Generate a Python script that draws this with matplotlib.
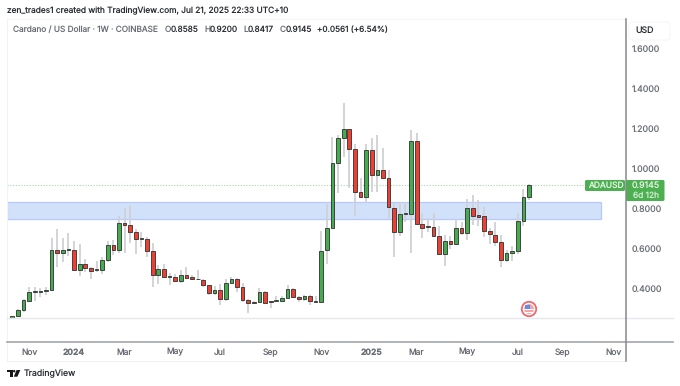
import pandas as pd
import matplotlib
matplotlib.use('Agg')
import matplotlib.pyplot as plt
import matplotlib.dates as mdates
from matplotlib.patches import Rectangle, FancyBboxPatch, Circle, Polygon

plt.rcParams['font.family'] = ['Inter', 'DejaVu Sans']
plt.rcParams['text.hinting'] = 'no_hinting'

# weekly candles, oldest first
opens = [.2500, .2532, .2615, .2932, .3382, .3815, .3832, .3865, .3915, .5932, .5782, .5898, .5915, .4932, .5232,
         .4998, .4915, .4898, .5398, .6182, .5898, .7265, .7165, .6798, .6465, .6465, .5865, .4648, .4965, .4598,
         .4548, .4365, .4648, .4548, .4482, .4432, .4148, .3765, .3898, .3448, .4282, .4448, .4048, .3415, .3315,
         .3315, .3832, .3348, .3348, .3348, .3498, .3948, .3548, .3465, .3615, .3382, .3315, .5898, .7032, 1.0248,
         1.1515, 1.1948, 1.0982, .8815, .8582, 1.0915, .9682, .9915, .9532, .8032, .6798, .7698, .7698, 1.1348,
         .7198, .7115, .7082, .6598, .5732, .6365, .6198, .7015, .6748, .8032, .7648, .7598, .6848, .6682, .6315,
         .5432, .5782, .5848, .7348, .8585]
highs = [.2532, .2632, .2948, .3448, .4048, .4082, .4032, .4082, .6498, .6948, .6498, .6782, .6365, .6198, .5448,
         .5048, .5365, .5582, .6365, .6415, .7632, .7998, .8115, .6965, .6832, .6582, .6248, .5165, .5215, .4748,
         .4698, .4915, .5082, .4665, .4915, .4482, .4182, .4115, .4215, .4465, .4548, .4498, .4282, .3448, .3348,
         .3998, .3865, .3382, .3615, .3632, .4148, .3998, .3615, .3665, .3648, .3615, .6882, .8215, 1.1582, 1.1665,
         1.3282, 1.1948, 1.1215, .9498, 1.1215, 1.1532, 1.1665, 1.0998, .9915, .8282, .8298, .8298, 1.1915, 1.1748,
         .7782, .7532, .7748, .7115, .6665, .6615, .7448, .7298, .8465, .8665, .8415, .8082, .6998, .7315, .6665,
         .5915, .6115, .7748, .8982, .9200]
lows = [.2500, .2515, .2582, .2832, .3332, .3382, .3548, .3665, .3915, .5082, .5332, .5615, .4915, .4632, .4832,
        .4465, .4832, .4715, .5332, .5665, .5748, .5782, .6282, .5698, .6082, .5582, .4048, .4215, .4498, .4165,
        .4332, .4248, .4465, .4415, .4415, .4048, .3665, .3665, .3165, .3382, .4248, .3798, .3332, .2748, .3248,
        .3282, .3248, .2998, .3315, .3315, .3448, .3498, .3298, .3382, .3148, .3248, .3248, .5198, .7032, .8748,
        1.0582, .8998, .7615, .8548, .8282, .8832, .8832, .9498, .7498, .5582, .6615, .7332, .5782, .7198,
        .6498, .6832, .6582, .5665, .5115, .5948, .6165, .6665, .6415, .7165, .7115, .6548, .6198, .6115, .5082,
        .5298, .5365, .5698, .7115, .8417]
closes = [.2532, .2615, .2915, .3398, .3798, .3848, .3882, .3915, .5932, .5782, .5898, .5948, .4915, .5232, .5015,
          .4882, .4948, .5398, .6182, .5898, .7265, .7165, .6798, .6448, .6498, .5882, .4665, .4965, .4565, .4565,
          .4348, .4648, .4532, .4448, .4448, .4148, .3765, .3898, .3448, .4282, .4448, .4048, .3415, .3248, .3265,
          .3832, .3282, .3298, .3398, .3498, .3948, .3548, .3465, .3615, .3382, .3315, .5882, .7015, 1.0248, 1.1498,
          1.1948, 1.0982, .8832, .8582, 1.0915, .9682, .9915, .9532, .8048, .6815, .7698, .7748, 1.1348, .7198,
          .7032, .7048, .6615, .5715, .6348, .6198, .7015, .6748, .8032, .7598, .7582, .6848, .6698, .6332, .5432,
          .5748, .5848, .7348, .8565, .9145]

zone_top = 0.8315
zone_bottom = 0.7465
last_price = 0.9145
y_ticks = [0.4, 0.6, 0.8, 1.0, 1.2, 1.4, 1.6]
x_tick_dates = ['2023-11-06', '2024-01-01', '2024-03-04', '2024-05-06', '2024-07-01', '2024-09-02',
                '2024-11-04', '2025-01-06', '2025-03-03', '2025-05-05', '2025-07-07', '2025-09-01', '2025-11-03']
x_tick_labels = ['Nov', '2024', 'Mar', 'May', 'Jul', 'Sep', 'Nov', '2025', 'Mar', 'May', 'Jul', 'Sep', 'Nov']

W, H = 680, 386
weeks = pd.date_range(end='2025-07-21', periods=len(opens), freq='7D')
df = pd.DataFrame({'o': opens, 'h': highs, 'l': lows, 'c': closes}, index=weeks)
df['x'] = mdates.date2num(df.index)

GREEN = '#46ab4e'
RED = '#f43c30'
WICK = '#cfd1d6'
EDGE = '#363b38'
LABEL = '#6b6e76'
DARK = '#2a2d33'

fig = plt.figure(figsize=(W / 100, H / 100), dpi=100, facecolor='white')

# axes box in pixels: left 7, right 625.5, top 19, bottom 342
ax = fig.add_axes([7 / W, 1 - 342 / H, 618.5 / W, 323 / H])
ax.set_facecolor('white')

# pixel calibration of the time and price scales
px_per_day = 5.616 / 7
last_x = df['x'].iloc[-1]
ax.set_xlim(last_x - (529 - 7) / px_per_day, last_x + (625.5 - 529) / px_per_day)
ax.set_ylim(0.8 + (208.3 - 342) / 200, 0.8 + (208.3 - 19) / 200)

# support zone
zone_end = last_x + (601.5 - 529) / px_per_day
ax.add_patch(Rectangle((ax.get_xlim()[0], zone_bottom), zone_end - ax.get_xlim()[0], zone_top - zone_bottom,
                       facecolor='#d1e1fa', edgecolor='#b7c8fb', lw=0.9, zorder=1))

# last price line
ax.axhline(last_price, color='#a9d3ac', lw=0.8, ls=(0, (1, 1.5)), zorder=1)

# candles
body_w = 3.7 / px_per_day
ax.vlines(df['x'], df['l'], df['h'], color=WICK, lw=1.3, zorder=2)
for x, o, c in zip(df['x'], df['o'], df['c']):
    col = GREEN if c >= o else RED
    ax.add_patch(Rectangle((x - body_w / 2, min(o, c)), body_w, abs(c - o), facecolor=col,
                           edgecolor=EDGE, lw=0.65, zorder=3))

for s in ['top', 'left', 'bottom', 'right']:
    ax.spines[s].set_visible(False)

ax.yaxis.tick_right()
ax.set_yticks(y_ticks)
ax.set_yticklabels([f'{v:.4f}' for v in y_ticks], fontsize=6.35, color=LABEL)
ax.set_xticks(mdates.date2num(pd.to_datetime(x_tick_dates)))
ax.set_xticklabels(x_tick_labels, fontsize=6.1, color=LABEL)
for lab in ax.get_xticklabels():
    if lab.get_text().startswith('20'):
        lab.set_fontweight('bold')
ax.tick_params(axis='x', length=0, pad=4.5)
ax.tick_params(axis='y', length=0, pad=4.5)


def px_text(x, y, s, **kw):
    return fig.text(x / W, 1 - y / H, s, va='center', **kw)


px_text(7, 11, 'zen_trades1 created with TradingView.com, Jul 21, 2025 22:33 UTC+10', fontsize=6.0, color=DARK)
px_text(13, 30, 'Cardano / US Dollar · 1W · COINBASE', fontsize=5.95, color=LABEL)
px_text(165, 30, 'O', fontsize=5.95, color=LABEL)
px_text(171, 30, '0.8585', fontsize=5.95, color=DARK)
px_text(204, 30, 'H', fontsize=5.95, color=LABEL)
px_text(210, 30, '0.9200', fontsize=5.95, color=DARK)
px_text(243, 30, 'L', fontsize=5.95, color=LABEL)
px_text(248, 30, '0.8417', fontsize=5.95, color=DARK)
px_text(280, 30, 'C', fontsize=5.95, color=LABEL)
px_text(286, 30, '0.9145', fontsize=5.95, color=DARK)
px_text(317, 30, '+0.0561 (+6.54%)', fontsize=5.9, color=DARK)
px_text(635, 30, 'USD', fontsize=6.3, color=DARK)

# overlay in pixel coordinates for the frame, tags and logo
bg = fig.add_axes([0, 0, 1, 1], facecolor='none')
bg.set_xlim(0, W)
bg.set_ylim(H, 0)
bg.axis('off')

# frame lines
bg.plot([7, 625], [361, 361], color='#f2f2f5', lw=0.8)
bg.plot([7, 7], [19, 361], color='#f2f2f5', lw=0.8)
bg.plot([7, 625], [19, 19], color='#f5f5f7', lw=0.8)
bg.plot([7, 673], [318, 318], color='#e6e7ec', lw=1)
bg.plot([7, 673], [342, 342], color='#a3a5ab', lw=1.2)
bg.plot([625.5, 625.5], [19, 361], color='#85878c', lw=1.1)
bg.add_patch(FancyBboxPatch((629, 22), 41, 18, boxstyle='round,pad=0,rounding_size=3', fc='white', ec='#f4f4f6', lw=0.6))

# price tags on the axis
bg.add_patch(FancyBboxPatch((585, 180), 40, 11, boxstyle='round,pad=0,rounding_size=1.5', fc='#4caf50', ec='none'))
bg.add_patch(FancyBboxPatch((626, 180), 38.5, 21, boxstyle='round,pad=0,rounding_size=1.5', fc='#4caf50', ec='none'))
bg.text(605.5, 185.5, 'ADAUSD', fontsize=6.1, color='#e9f6ea', ha='center', va='center')
bg.text(646, 185.5, '0.9145', fontsize=6.35, color='#e9f6ea', ha='center', va='center')
bg.text(646, 195.5, '6d 12h', fontsize=6.0, color='#d5edd7', ha='center', va='center')

# flag marker
bg.add_patch(Circle((529, 309), 7.2, fc='white', ec='#f0686c', lw=1.3))
bg.add_patch(Circle((529, 309), 5, fc='#f5a3a5', ec='none'))
bg.add_patch(Rectangle((525, 304.5), 5, 4, fc='#5b8fe8', ec='none'))
bg.add_patch(Rectangle((524, 309), 10, 1.2, fc='white', ec='none'))
bg.add_patch(Rectangle((524, 311.5), 10, 1.2, fc='white', ec='none'))

# footer logo and name
bg.add_patch(Rectangle((7, 370), 5.5, 2.3, fc='#14161a', ec='none'))
bg.add_patch(Rectangle((9.5, 370), 3, 6.7, fc='#14161a', ec='none'))
bg.add_patch(Circle((14.2, 371.2), 1.2, fc='#14161a', ec='none'))
bg.add_patch(Polygon([(16.6, 370), (20.3, 370), (17.4, 376.7), (13.8, 376.7)], fc='#14161a', ec='none'))
bg.text(24, 374, 'TradingView', fontsize=6.3, color=DARK, va='center')

fig.savefig('out.png', dpi=100)
